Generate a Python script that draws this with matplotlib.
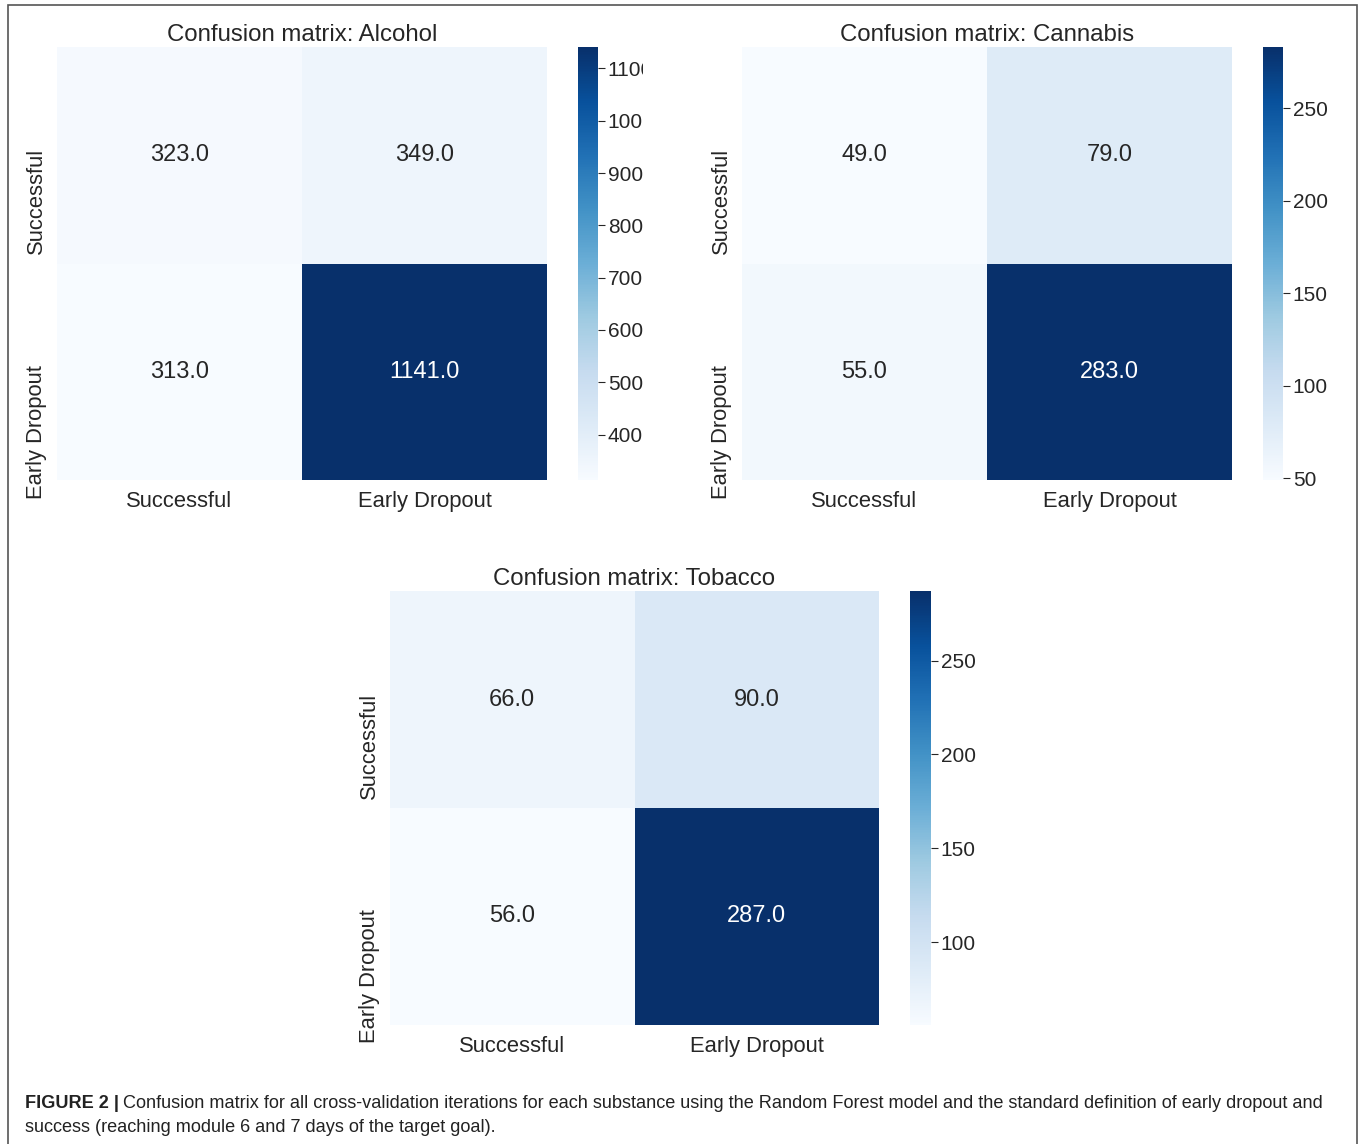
import numpy as np
import matplotlib
matplotlib.use("Agg")
import matplotlib.pyplot as plt
import seaborn as sns
from matplotlib.patches import Rectangle
from matplotlib.transforms import Bbox, ScaledTranslation

sns.set_style("white")
plt.rcParams["font.family"] = ["Liberation Sans", "DejaVu Sans"]
plt.rcParams["text.color"] = "#262626"
plt.rcParams["xtick.color"] = "#262626"
plt.rcParams["ytick.color"] = "#262626"

# confusion matrices summed over all cross-validation folds
labels = ["Successful", "Early Dropout"]
alcohol = np.array([[323.0, 349.0], [313.0, 1141.0]])
cannabis = np.array([[49.0, 79.0], [55.0, 283.0]])
tobacco = np.array([[66.0, 90.0], [56.0, 287.0]])

alcohol_ticks = [400, 500, 600, 700, 800, 900, 1000, 1100]
cannabis_ticks = [50, 100, 150, 200, 250]
tobacco_ticks = [100, 150, 200, 250]

W, H = 1360, 1144
fig = plt.figure(figsize=(W / 100, H / 100), dpi=100)


def px_axes(x0, y0, x1, y1):
    # axes from pixel box (top-left origin)
    return fig.add_axes([x0 / W, 1 - y1 / H, (x1 - x0) / W, (y1 - y0) / H])


def draw_matrix(ax, cax, data, title, ticks):
    sns.heatmap(data, ax=ax, cbar_ax=cax, cmap="Blues", annot=True, fmt=".1f",
                annot_kws={"size": 17}, xticklabels=labels, yticklabels=labels)
    ax.set_title(title, fontsize=17.3, pad=4)
    ax.tick_params(axis="both", length=0, labelsize=15.8)
    ax.tick_params(axis="x", pad=8)
    ax.tick_params(axis="y", pad=7)
    shift = ScaledTranslation(0, 0.07, fig.dpi_scale_trans)
    for lab in ax.get_yticklabels():
        lab.set_rotation(90)
        lab.set_va("top")
        lab.set_transform(lab.get_transform() + shift)
    cbar = ax.collections[0].colorbar
    cbar.set_ticks(ticks)
    cbar.outline.set_visible(False)
    cax.tick_params(length=5, width=0.8, labelsize=15, pad=2, color="#262626")
    return cbar


ax1 = px_axes(57, 47, 547, 480)
cax1 = px_axes(578, 47, 598, 480)
draw_matrix(ax1, cax1, alcohol, "Confusion matrix: Alcohol", alcohol_ticks)

ax2 = px_axes(742, 47, 1232, 480)
cax2 = px_axes(1263, 47, 1283, 480)
draw_matrix(ax2, cax2, cannabis, "Confusion matrix: Cannabis", cannabis_ticks)

ax3 = px_axes(390, 591, 879, 1025)
cax3 = px_axes(910, 591, 931, 1025)
draw_matrix(ax3, cax3, tobacco, "Confusion matrix: Tobacco", tobacco_ticks)

# frame around the panels
fig.patches.append(Rectangle((8 / W, -0.01), (1357 - 8) / W, 1 - 5 / H + 0.01,
                             transform=fig.transFigure, fill=False,
                             edgecolor="#555555", linewidth=1.2))

# caption
cap_y1 = 1 - 1103 / H
cap_y2 = 1 - 1128 / H
bold = fig.text(25 / W, cap_y1, "FIGURE 2 |", fontsize=13.1, fontweight="bold",
                color="#222222", va="center")
fig.canvas.draw()
bb = bold.get_window_extent()
fig.text((bb.x1 + 4) / W, cap_y1,
         "Confusion matrix for all cross-validation iterations for each substance using the "
         "Random Forest model and the standard definition of early dropout and",
         fontsize=13.1, color="#222222", va="center")
fig.text(25 / W, cap_y2, "success (reaching module 6 and 7 days of the target goal).",
         fontsize=13.1, color="#222222", va="center")

# the alcohol colorbar labels run past the panel edge and are cut there
fig.canvas.draw()
clip = Bbox.from_extents(0, 0, 643, H)
for lab in cax1.get_yticklabels():
    lab.set_clip_on(True)
    lab.set_clip_box(clip)

fig.savefig("out.png", dpi=100)
